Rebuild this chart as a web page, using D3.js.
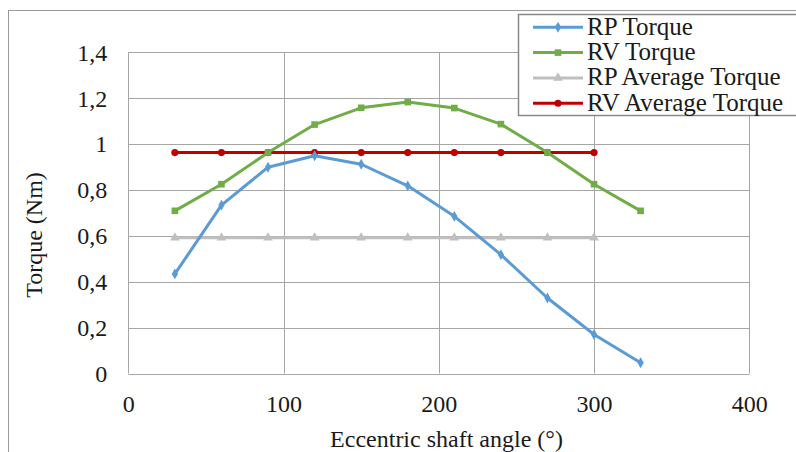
<!DOCTYPE html>
<html>
<head>
<meta charset="utf-8">
<script src="https://cdn.jsdelivr.net/npm/d3@7"></script>
</head>
<body style="margin:0">
<svg id="torque-plot" width="796" height="452"></svg>
<script>
// Eccentric shaft angle (degrees)
const angles = [30, 60, 90, 120, 150, 180, 210, 240, 270, 300, 330];
const avgAngles = [30, 60, 90, 120, 150, 180, 210, 240, 270, 300];

// Torque values (Nm)
const rpTorque = [0.434, 0.734, 0.899, 0.949, 0.912, 0.818, 0.685, 0.518, 0.329, 0.170, 0.047];
const rvTorque = [0.709, 0.825, 0.963, 1.085, 1.158, 1.183, 1.157, 1.087, 0.963, 0.825, 0.709];
const rpAverage = [0.592, 0.592, 0.592, 0.592, 0.592, 0.592, 0.592, 0.592, 0.592, 0.592];
const rvAverage = [0.963, 0.963, 0.963, 0.963, 0.963, 0.963, 0.963, 0.963, 0.963, 0.963];

// Axis ticks
const xTicks = [0, 100, 200, 300, 400];
const yTicks = [0, 0.2, 0.4, 0.6, 0.8, 1.0, 1.2, 1.4];
const yTickLabels = ["0", "0,2", "0,4", "0,6", "0,8", "1", "1,2", "1,4"];

const seriesNames = ["RP Torque", "RV Torque", "RP Average Torque", "RV Average Torque"];

const FONT = "Liberation Serif";
const INK = "#1a1a1a";

const svg = d3.select("#torque-plot");

const x = d3.scaleLinear().domain([0, 400]).range([128.3, 749.3]);
const y = d3.scaleLinear().domain([0, 1.4]).range([373.5, 52.3]);

function label(sel, size) {
  return sel
    .style("font-family", FONT, "important")
    .style("font-size", size + "px", "important")
    .style("fill", INK);
}

// Outer chart frame
svg.append("rect")
  .attr("x", 8.5).attr("y", 10.5)
  .attr("width", 800).attr("height", 500)
  .attr("fill", "#fff").attr("stroke", "#9a9a9a").attr("stroke-width", 1);

// Gridlines
const grid = svg.append("g");
grid.selectAll("line.h").data(yTicks).join("line")
  .attr("x1", x(0)).attr("x2", x(400))
  .attr("y1", d => Math.round(y(d)) + 0.5).attr("y2", d => Math.round(y(d)) + 0.5)
  .attr("stroke", "#a6a6a6").attr("stroke-width", 1);
grid.selectAll("line.v").data(xTicks).join("line")
  .attr("y1", y(0)).attr("y2", y(1.4))
  .attr("x1", d => Math.round(x(d)) + 0.5).attr("x2", d => Math.round(x(d)) + 0.5)
  .attr("stroke", "#a6a6a6").attr("stroke-width", 1);

// Axes (labels only; lines come from the grid)
const xAxis = svg.append("g")
  .attr("transform", `translate(0,${y(0)})`)
  .call(d3.axisBottom(x).tickValues(xTicks).tickSize(0).tickPadding(0).tickFormat(d3.format("d")));
xAxis.attr("font-family", FONT).attr("font-size", 24);
xAxis.select(".domain").remove();
label(xAxis.selectAll("text").attr("y", 38).attr("dy", 0), 24);

const yAxis = svg.append("g")
  .attr("transform", `translate(${x(0)},0)`)
  .call(d3.axisLeft(y).tickValues(yTicks).tickSize(0).tickPadding(0)
    .tickFormat((d, i) => yTickLabels[i]));
yAxis.attr("font-family", FONT).attr("font-size", 24);
yAxis.select(".domain").remove();
label(yAxis.selectAll("text").attr("x", -21).attr("dy", "0.33em"), 24);

// Axis titles
label(svg.append("text")
  .attr("x", 446.5).attr("y", 446.5)
  .attr("text-anchor", "middle"), 24)
  .text("Eccentric shaft angle (°)");

label(svg.append("text")
  .attr("transform", "translate(41.5,235) rotate(-90)")
  .attr("text-anchor", "middle"), 24)
  .text("Torque (Nm)");

// Series
const series = [
  { name: seriesNames[0], xs: angles, ys: rpTorque, color: "#5b9bd5", symbol: d3.symbolDiamond, size: 34 },
  { name: seriesNames[1], xs: angles, ys: rvTorque, color: "#70ad47", symbol: d3.symbolSquare, size: 44 },
  { name: seriesNames[2], xs: avgAngles, ys: rpAverage, color: "#bfbfbf", symbol: d3.symbolTriangle, size: 40 },
  { name: seriesNames[3], xs: avgAngles, ys: rvAverage, color: "#c00000", symbol: d3.symbolCircle, size: 40 }
];

const line = d3.line().x(d => x(d[0])).y(d => y(d[1]));

// Draw in reverse so RP Torque sits on top
series.slice().reverse().forEach(s => {
  const pts = s.xs.map((v, i) => [v, s.ys[i]]);
  const g = svg.append("g");
  g.append("path")
    .attr("d", line(pts))
    .attr("fill", "none")
    .attr("stroke", s.color)
    .attr("stroke-width", 3)
    .attr("stroke-linejoin", "round");
  g.selectAll("path.m").data(pts).join("path")
    .attr("class", "m")
    .attr("transform", d => `translate(${x(d[0])},${y(d[1])})`)
    .attr("d", d3.symbol().type(s.symbol).size(s.size))
    .attr("fill", s.color);
});

// Legend
const legend = svg.append("g");
legend.append("rect")
  .attr("x", 518.5).attr("y", 14.5)
  .attr("width", 300).attr("height", 101)
  .attr("fill", "#fff").attr("stroke", "#888").attr("stroke-width", 1.5);

series.forEach((s, i) => {
  const cy = 27.3 + i * 25.3;
  legend.append("line")
    .attr("x1", 533).attr("x2", 583)
    .attr("y1", cy).attr("y2", cy)
    .attr("stroke", s.color).attr("stroke-width", 3);
  legend.append("path")
    .attr("transform", `translate(558,${cy})`)
    .attr("d", d3.symbol().type(s.symbol).size(s.size))
    .attr("fill", s.color);
  label(legend.append("text")
    .attr("x", 587).attr("y", cy).attr("dy", "0.3em"), 25)
    .text(s.name);
});
</script>
</body>
</html>
